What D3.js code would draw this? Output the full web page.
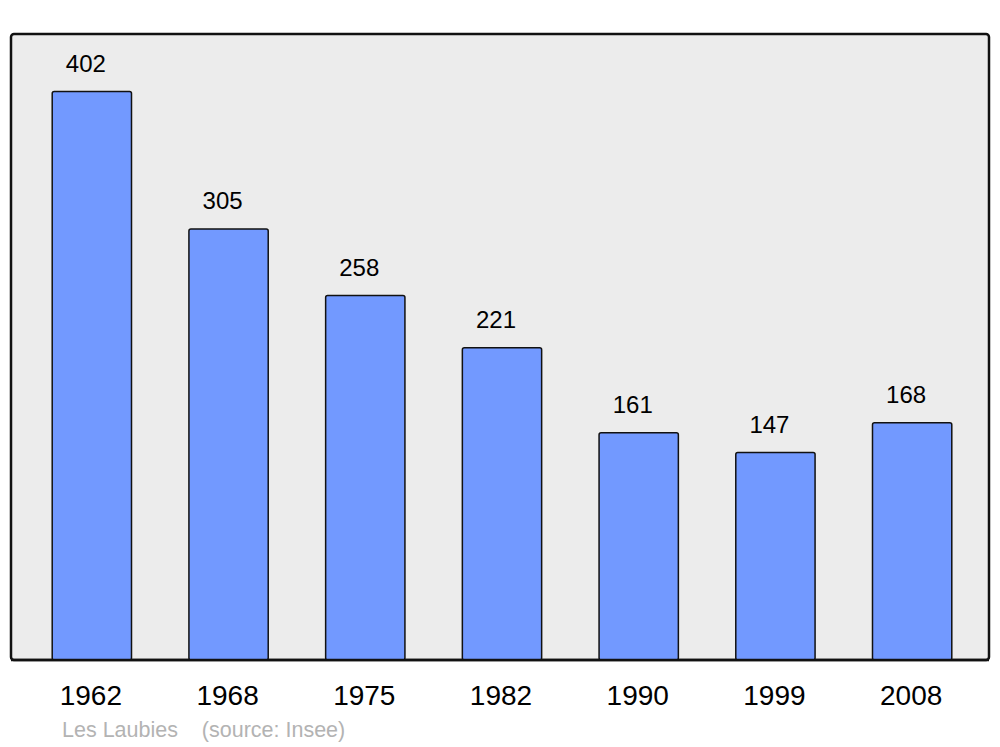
<!DOCTYPE html>
<html><head><meta charset="utf-8">
<script src="https://cdn.jsdelivr.net/npm/d3@7"></script>
<style>html,body{margin:0;padding:0;background:#fff;}svg{display:block;}</style>
</head><body>
<script>
const years = ["1962","1968","1975","1982","1990","1999","2008"];
const population = [402,305,258,221,161,147,168];
const caption = "Les Laubies    (source: Insee)";

const W = 1000, H = 747;
const frame = {x0: 11, x1: 989, y0: 34, y1: 660};
const svg = d3.select("body").append("svg").attr("width", W).attr("height", H);

svg.append("rect").attr("x", frame.x0).attr("y", frame.y0)
  .attr("width", frame.x1 - frame.x0).attr("height", frame.y1 - frame.y0)
  .attr("rx", 3).attr("fill", "#ececec").attr("stroke", "#111").attr("stroke-width", 2.5);

const x = d3.scaleBand().domain(years).range([23.5, 980.5]).paddingInner(0.42).paddingOuter(0.21);
const y = d3.scaleLinear().domain([0, d3.max(population) * 1.1]).range([frame.y1, frame.y0]);

const data = years.map((yr, i) => ({yr, v: population[i]}));

svg.selectAll("rect.bar").data(data).enter().append("rect").attr("class", "bar")
  .attr("x", d => x(d.yr)).attr("y", d => y(d.v) + 0.7)
  .attr("width", x.bandwidth()).attr("height", d => y(0) - y(d.v) - 0.7)
  .attr("rx", 2).attr("fill", "#7299ff").attr("stroke", "#111").attr("stroke-width", 1.5);

svg.selectAll("text.val").data(data).enter().append("text").attr("class", "val")
  .attr("x", d => x(d.yr) + x.bandwidth() / 2 - 6).attr("y", d => y(d.v) - 19)
  .attr("text-anchor", "middle").attr("font-family", "Liberation Sans, Arial, sans-serif")
  .attr("font-size", 24).attr("fill", "#000").text(d => d.v);

svg.append("line").attr("x1", frame.x0).attr("x2", frame.x1).attr("y1", frame.y1).attr("y2", frame.y1)
  .attr("stroke", "#111").attr("stroke-width", 2.5);

const xAxis = d3.axisBottom(x).tickSize(0).tickPadding(0);
const ax = svg.append("g").attr("transform", `translate(-1,${frame.y1})`).call(xAxis);
ax.select(".domain").remove();
ax.selectAll("text").attr("font-family", "Liberation Sans, Arial, sans-serif")
  .attr("font-size", 28).attr("fill", "#000").attr("dy", 0).attr("y", 45);

svg.append("text").attr("x", 62).attr("y", 737).attr("xml:space", "preserve")
  .style("white-space", "pre")
  .attr("font-family", "Liberation Sans, Arial, sans-serif").attr("font-size", 21.5)
  .attr("fill", "#b3b3b3").text(caption);
</script>
</body></html>
